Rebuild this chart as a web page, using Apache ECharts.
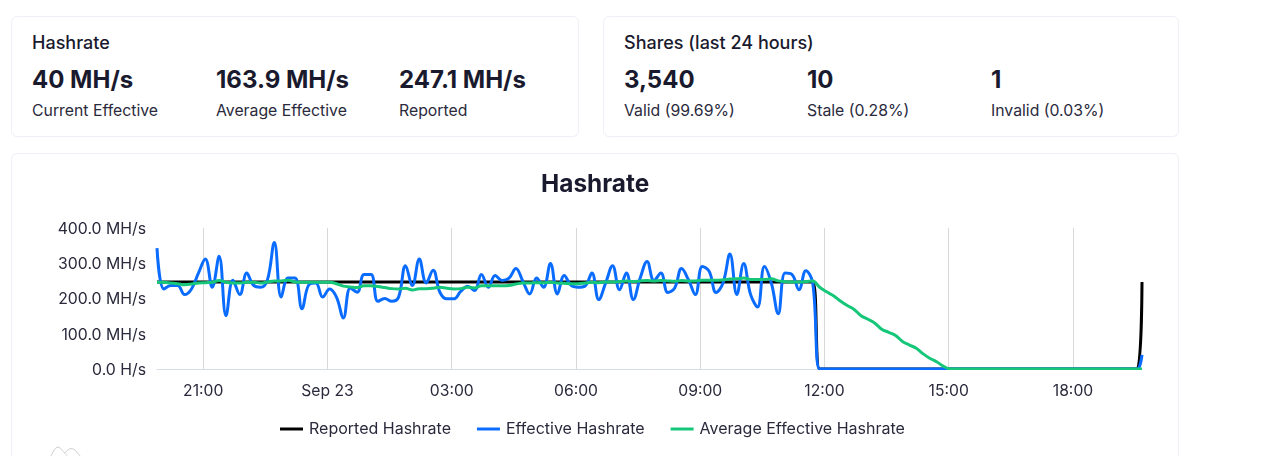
<!DOCTYPE html>
<html>
<head>
<meta charset="utf-8">
<title>Hashrate</title>
<script src="https://cdn.jsdelivr.net/npm/echarts@6/dist/echarts.min.js"></script>
<style>
    html, body { margin: 0; width: 1264px; height: 456px; overflow: hidden; background: #fff; }
    body { font-family: Inter, sans-serif; color: #1a1a2e; position: relative; }
    .card { position: absolute; box-sizing: border-box; border: 1px solid #edf0f6; border-radius: 6px; background: #fff; }
    .card-title { position: absolute; left: 20px; top: 16px; font-size: 18px; font-weight: 500; line-height: 20px; white-space: nowrap; }
    .stat { position: absolute; top: 48px; white-space: nowrap; }
    .stat b { display: block; font-size: 24px; font-weight: 700; line-height: 30px; }
    .stat span { display: block; font-size: 15.8px; line-height: 20px; margin-top: 6px; color: #2a2a3c; }
    #chart { position: absolute; left: 0; top: 0; width: 1264px; height: 456px; }
    #logo { position: absolute; left: 48px; top: 444px; }
</style>
</head>
<body>
<div class="card" style="left:11px;top:16px;width:568px;height:121px">
    <div class="card-title">Hashrate</div>
    <div class="stat" style="left:20px"><b>40 MH/s</b><span>Current Effective</span></div>
    <div class="stat" style="left:204px"><b>163.9 MH/s</b><span>Average Effective</span></div>
    <div class="stat" style="left:387px"><b>247.1 MH/s</b><span>Reported</span></div>
</div>
<div class="card" style="left:603px;top:16px;width:576px;height:121px">
    <div class="card-title">Shares (last 24 hours)</div>
    <div class="stat" style="left:20px"><b>3,540</b><span>Valid (99.69%)</span></div>
    <div class="stat" style="left:203px"><b>10</b><span>Stale (0.28%)</span></div>
    <div class="stat" style="left:387px"><b>1</b><span>Invalid (0.03%)</span></div>
</div>
<div class="card" style="left:11px;top:153px;width:1168px;height:340px"></div>
<div id="chart"></div>
<svg id="logo" width="40" height="12"><path d="M2 14 L6 6 Q10 0 14 6 L17 9 Q22 2 27 6 L33 13" fill="none" stroke="#cfcfcf" stroke-width="1"/><path d="M14 6 L21 14" fill="none" stroke="#dcdcdc" stroke-width="1"/></svg>
<script>
// 10 minute samples from Sep 22 19:53, the last one is a partial bucket
const startTime = new Date(2022, 8, 22, 19, 53).getTime();
const stepMs = 10 * 60 * 1000;
const lastTime = new Date(2022, 8, 23, 19, 40).getTime();
const zeroRun = n => new Array(n).fill(0);

// tick positions on the x axis, every 3 hours
const tickHours = [
    [22, 21], [23, 0], [23, 3], [23, 6], [23, 9], [23, 12], [23, 15], [23, 18]
];
const tickTimes = tickHours.map(([day, hour]) => new Date(2022, 8, day, hour).getTime());

const effectiveValues = [
    343, 227, 237, 237, 211, 227, 272, 312, 232, 320, 151, 252, 211, 272, 237, 232,
    253, 359, 204, 258, 258, 171, 239, 244, 204, 227, 204, 145, 230, 218, 268, 268,
    192, 200, 192, 204, 293, 237, 312, 244, 280, 217, 199, 199, 220, 235, 223, 268,
    232, 265, 251, 258, 285, 249, 213, 258, 232, 299, 213, 265, 237, 232, 235, 272,
    197, 244, 293, 225, 272, 197, 258, 305, 251, 272, 217, 230, 285, 253, 211, 291,
    277, 217, 244, 326, 211, 299, 211, 176, 291, 244, 157, 272, 268, 225, 279, 244,
    ...zeroRun(47), 40
];
const reportedValues = [...new Array(96).fill(247), ...zeroRun(47), 247];
const averageValues = [
    246, 246, 244, 242, 239, 241, 244, 245, 246, 251, 246, 244, 244, 246, 246, 244,
    247, 250, 250, 252, 247, 246, 246, 246, 246, 246, 242, 235, 233, 231, 236, 236,
    234, 231, 228, 227, 229, 224, 228, 228, 229, 232, 229, 227, 228, 232, 230, 236,
    236, 236, 236, 237, 241, 244, 244, 245, 245, 246, 244, 243, 242, 242, 244, 246,
    245, 247, 247, 248, 250, 248, 250, 251, 250, 251, 250, 249, 251, 250, 250, 252,
    252, 252, 253, 255, 256, 258, 254, 254, 254, 256, 250, 248, 247, 247, 248, 250,
    232, 219, 208, 193, 180, 169, 151, 141, 130, 113, 104, 95, 78, 68, 59, 43,
    30, 20, 7, ...zeroRun(29)
];
const timeAt = i => (i === effectiveValues.length - 1 ? lastTime : startTime + i * stepMs);
const toPoints = values => values.map((v, i) => [timeAt(i), v]);

const textColor = '#1a1a2e';
const labelColor = '#2a2a3c';
const chart = echarts.init(document.getElementById('chart'));

function makeLine(name, values, color) {
    return {
        name: name,
        type: 'line',
        data: toPoints(values),
        smooth: 0.4,
        showSymbol: false,
        symbol: 'none',
        lineStyle: { color: color, width: 3 },
        itemStyle: { color: color },
        animation: false
    };
}

chart.setOption({
    animation: false,
    title: {
        text: 'Hashrate',
        left: 536,
        top: 168,
        textStyle: { fontFamily: 'Inter', fontSize: 24.4, fontWeight: 700, color: textColor }
    },
    legend: {
        top: 421,
        left: 280,
        padding: 0,
        itemWidth: 23,
        itemHeight: 3,
        itemGap: 26,
        icon: 'rect',
        textStyle: { fontFamily: 'Inter', fontSize: 16, color: labelColor, padding: [0, 0, 0, 1] }
    },
    grid: { left: 157, top: 228, width: 985, height: 141 },
    // the reference clips its lines at the axis, so hide the part that falls below it
    graphic: [{
        type: 'rect',
        z: 100,
        shape: { x: 150, y: 370, width: 1000, height: 3 },
        style: { fill: '#fff' }
    }],
    xAxis: {
        type: 'value',
        min: startTime,
        max: lastTime,
        axisLine: { lineStyle: { color: '#d8dce6', width: 1 } },
        axisTick: { show: false, customValues: tickTimes },
        splitLine: { show: true, lineStyle: { color: '#d8d8d8', width: 1 } },
        axisLabel: {
            fontFamily: 'Inter',
            fontSize: 15.7,
            color: labelColor,
            margin: 14,
            customValues: tickTimes,
            formatter: value => {
                const d = new Date(value);
                if (d.getHours() === 0) return 'Sep 23';
                return String(d.getHours()).padStart(2, '0') + ':00';
            }
        }
    },
    yAxis: {
        type: 'value',
        min: 0,
        max: 400,
        interval: 100,
        axisLine: { show: false },
        axisTick: { show: false },
        splitLine: { show: false },
        axisLabel: {
            margin: 11,
            formatter: value => '{v|' + (value === 0 ? '0.0 H/s' : value.toFixed(1) + ' MH/s') + '}',
            rich: {
                v: { fontFamily: 'Inter', fontSize: 15.8, color: labelColor, padding: [2, 0, 0, 0] }
            }
        }
    },
    series: [
        makeLine('Reported Hashrate', reportedValues, '#000000'),
        makeLine('Effective Hashrate', effectiveValues, '#0a6cff'),
        makeLine('Average Effective Hashrate', averageValues, '#16c77a')
    ]
});
</script>
</body>
</html>
